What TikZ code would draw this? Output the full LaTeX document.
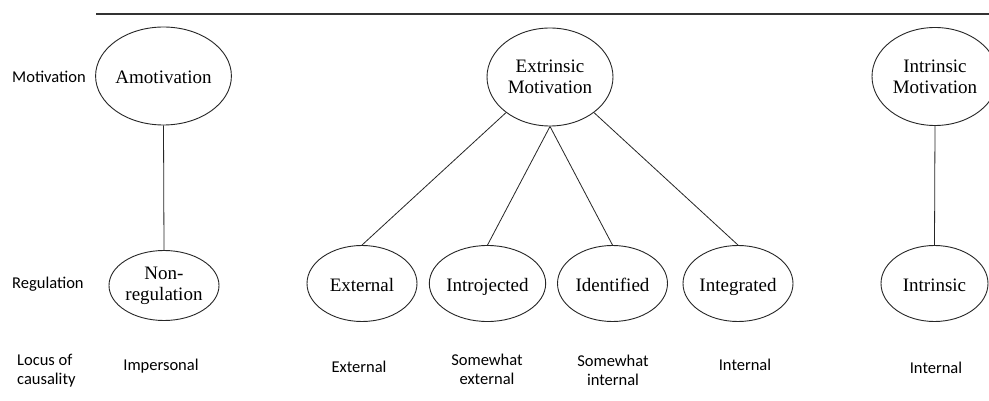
\documentclass[tikz,border=0pt]{standalone}
\usepackage{fontspec}
\setmainfont{Liberation Serif}
\newfontfamily\labelfont{Carlito}
\usetikzlibrary{shapes.geometric}
\tikzset{
  oval/.style={ellipse, draw=black!85, line width=0.9pt, inner sep=0pt,
    minimum width=110pt, minimum height=76pt, align=center,
    font=\fontsize{19}{21}\selectfont},
  oneline/.style={text height=16pt, text depth=0pt},
  bigoval/.style={oval, minimum width=126pt, minimum height=98pt},
  rowlabel/.style={font=\labelfont\fontsize{16.5}{19}\selectfont, align=left, inner sep=0pt},
  locus/.style={font=\labelfont\fontsize{16.5}{19}\selectfont, align=center, inner sep=0pt},
  link/.style={draw=black!85, line width=0.8pt}
}
\begin{document}
\begin{tikzpicture}[x=1pt, y=-1pt]
\useasboundingbox (0,0) rectangle (989,401);
\fill[white] (0,0) rectangle (989,401);

% rule across the top
\coordinate (ruleL) at (96,14);
\coordinate (ruleR) at (989,14);
\draw[line width=2pt, black!80] (ruleL) -- (ruleR);

% row labels
\node[rowlabel, anchor=west] (lmot) at (12,79) {Motivation\strut};
\node[rowlabel, anchor=west] (lreg) at (12,285) {Regulation\strut};
\node[rowlabel, anchor=west] (lloc) at (17,371) {Locus of\\causality};

% motivation row
\node[bigoval, oneline] (amot) at (163.5,76) {Amotivation};
\node[bigoval] (extr) at (550,77) {Extrinsic\\Motivation};
\node[bigoval] (intrm) at (935,76.5) {Intrinsic\\Motivation};

% regulation row
\node[oval, minimum height=70pt] (nonreg) at (164,285.5) {Non-\\regulation};
\node[oval, oneline] (external) at (362,283.5) {External};
\node[oval, oneline] (introj) at (487.5,283.5) {Introjected};
\node[oval, oneline] (ident) at (612.5,283.5) {Identified};
\node[oval, oneline] (integ) at (738,283.5) {Integrated};
\node[oval, oneline, minimum width=107pt] (intr) at (934.5,283.5) {Intrinsic};

% connectors
\draw[link] (amot.south) -- (nonreg.north);
\draw[link] (extr.219) -- (external.north);
\draw[link] (extr.south) -- (introj.north);
\draw[link] (extr.south) -- (ident.north);
\draw[link] (extr.321) -- (integ.north);
\draw[link] (intrm.south) -- (intr.north);

% locus of causality
\node[locus] (c1) at (161,367) {Impersonal\strut};
\node[locus] (c2) at (359,369) {External\strut};
\node[locus] (c3) at (487,369.5) {Somewhat\\external};
\node[locus] (c4) at (613,370.5) {Somewhat\\internal};
\node[locus] (c5) at (745,367) {Internal\strut};
\node[locus] (c6) at (936,370) {Internal\strut};
\end{tikzpicture}
\end{document}
